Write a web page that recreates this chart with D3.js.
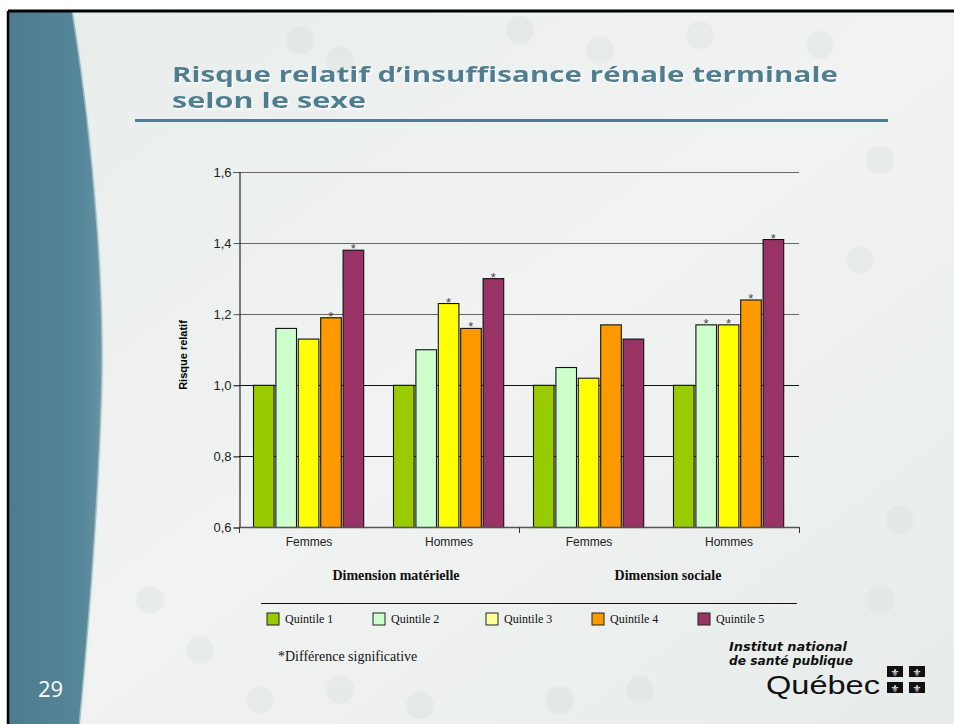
<!DOCTYPE html>
<html><head><meta charset="utf-8">
<script src="https://cdn.jsdelivr.net/npm/d3@7"></script>
<style>html,body{margin:0;padding:0;background:#fff;overflow:hidden}</style>
</head><body>
<svg id="c" width="954" height="724"></svg>
<script>
const groups = ["Femmes","Hommes","Femmes ","Hommes "];
const groupLabels = ["Femmes","Hommes","Femmes","Hommes"];
const dimensions = ["Dimension matérielle","Dimension sociale"];
const quintiles = ["Quintile 1","Quintile 2","Quintile 3","Quintile 4","Quintile 5"];
const q1 = [1.00,1.00,1.00,1.00];
const q2 = [1.16,1.10,1.05,1.17];
const q3 = [1.13,1.23,1.02,1.17];
const q4 = [1.19,1.16,1.17,1.24];
const q5 = [1.38,1.30,1.13,1.41];
const significant = [[0,0,0,1,1],[0,0,1,1,1],[0,0,0,0,0],[0,1,1,1,1]];
const barColors = ["#99cc00","#ccffcc","#ffff00","#ff9900","#993366"];
const legendColors = ["#99cc00","#ccffcc","#ffff99","#ff9900","#993366"];
const yTicks = [0.6,0.8,1.0,1.2,1.4,1.6];
const series = [q1,q2,q3,q4,q5];

const svg = d3.select("#c");
const defs = svg.append("defs");
const bg = defs.append("linearGradient").attr("id","bg").attr("x1",0).attr("y1",0).attr("x2",1).attr("y2",1);
bg.append("stop").attr("offset","0").attr("stop-color","#e8edeb");
bg.append("stop").attr("offset","0.5").attr("stop-color","#f0f3f2");
bg.append("stop").attr("offset","1").attr("stop-color","#e7ecea");
const band = defs.append("linearGradient").attr("id","band").attr("x1",0).attr("y1",0).attr("x2",1).attr("y2",0);
band.append("stop").attr("offset","0").attr("stop-color","#4c7b8d");
band.append("stop").attr("offset","0.8").attr("stop-color","#56879a");
band.append("stop").attr("offset","1").attr("stop-color","#6a95a4");
const sh = defs.append("filter").attr("id","shadow").attr("x","-5%").attr("y","-20%").attr("width","110%").attr("height","140%");
sh.append("feDropShadow").attr("dx",1.5).attr("dy",1.5).attr("stdDeviation",0.6).attr("flood-color","#ffffff").attr("flood-opacity",0.9);

svg.append("rect").attr("width",954).attr("height",724).attr("fill","#fff");
svg.append("rect").attr("x",8).attr("y",11).attr("width",946).attr("height",713).attr("fill","url(#bg)");
const pat = svg.append("g").attr("opacity",0.18);
const pts = [[300,40],[340,60],[520,30],[600,50],[700,35],[820,45],[150,600],[200,650],[260,700],[340,690],[420,705],[560,700],[640,690],[880,600],[900,520],[860,260],[880,160]];
pts.forEach(p=>pat.append("circle").attr("cx",p[0]).attr("cy",p[1]).attr("r",14).attr("fill","#c8d3cf"));
svg.append("path").attr("d","M9,12 L73,12 C95,150 106,300 102,400 C98,520 88,640 80,724 L9,724 Z").attr("fill","url(#band)");
svg.append("path").attr("d","M73,12 C95,150 106,300 102,400 C98,520 88,640 80,724").attr("fill","none").attr("stroke","#dfe7e6").attr("stroke-width",3).attr("opacity",0.5);
svg.append("line").attr("x1",8).attr("y1",11).attr("x2",954).attr("y2",11).attr("stroke","#000").attr("stroke-width",3);
svg.append("line").attr("x1",8).attr("y1",11).attr("x2",8).attr("y2",724).attr("stroke","#000").attr("stroke-width",2.5);

svg.append("text").attr("x",38).attr("y",697).attr("fill","#fff").attr("font-family","'Open Sans',sans-serif").attr("font-size",22).text("29");

const title = svg.append("g").attr("font-family","'Open Sans','Noto Sans',sans-serif").attr("font-weight","bold").attr("font-size",21).attr("fill","#4e7f91").attr("filter","url(#shadow)");
title.append("text").attr("x",172).attr("y",82).attr("textLength",666).attr("lengthAdjust","spacingAndGlyphs").text("Risque relatif d’insuffisance rénale terminale");
title.append("text").attr("x",172).attr("y",108).attr("textLength",194).attr("lengthAdjust","spacingAndGlyphs").text("selon le sexe");
svg.append("line").attr("x1",135).attr("x2",888).attr("y1",120.5).attr("y2",120.5).attr("stroke","#4e7f91").attr("stroke-width",3);

const x0 = d3.scaleBand().domain(groups).range([239,799]).paddingInner(0.2).paddingOuter(0.1);
const x1 = d3.scaleBand().domain(d3.range(5)).range([0,x0.bandwidth()]);
const y = d3.scaleLinear().domain([0.6,1.6]).range([527.5,172]);

const g = svg.append("g");
g.selectAll("line.grid").data(yTicks.slice(1)).join("line")
  .attr("x1",239).attr("x2",799).attr("y1",d=>Math.round(y(d))+0.5).attr("y2",d=>Math.round(y(d))+0.5)
  .attr("stroke",d=>d>1.1?"#666":"#111").attr("stroke-width",1);

const gg = g.selectAll("g.grp").data(groups).join("g").attr("transform",d=>`translate(${x0(d)},0)`);
gg.each(function(gname,gi){
  const sel = d3.select(this);
  const data = series.map((s,qi)=>({v:s[gi],qi,sig:significant[gi][qi]}));
  sel.selectAll("rect").data(data).join("rect")
    .attr("x",d=>x1(d.qi)+0.5).attr("width",x1.bandwidth()-1.8)
    .attr("y",d=>y(d.v)).attr("height",d=>y(0.6)-y(d.v))
    .attr("fill",d=>barColors[d.qi]).attr("stroke","#111").attr("stroke-width",1.1);
  sel.selectAll("text").data(data.filter(d=>d.sig)).join("text")
    .attr("x",d=>x1(d.qi)+x1.bandwidth()/2-0.5).attr("y",d=>y(d.v)+3)
    .attr("text-anchor","middle").attr("font-family","'Liberation Sans',Arial,sans-serif").attr("font-size",13).attr("fill","#444").text("*");
});

const yAxis = d3.axisLeft(y).tickValues(yTicks).tickSize(6).tickFormat(d=>d3.format(".1f")(d).replace(".",","));
const ya = svg.append("g").attr("transform","translate(239.5,0)").call(yAxis);
ya.select(".domain").attr("stroke","#000");
ya.selectAll(".tick line").attr("stroke",d=>d>1.1||d<0.7?"#555":"#000");
ya.selectAll(".tick text").attr("font-family","'Liberation Sans',Arial,sans-serif").attr("font-size",13).attr("fill","#222").attr("x",-8);
svg.append("text").attr("transform","translate(187,355) rotate(-90)").attr("text-anchor","middle")
  .attr("font-family","'Liberation Sans',Arial,sans-serif").attr("font-weight","bold").attr("font-size",11).attr("fill","#000").text("Risque relatif");

svg.append("line").attr("x1",239).attr("x2",799).attr("y1",527.5).attr("y2",527.5).attr("stroke","#555").attr("stroke-width",1.3);
[239,519,799].forEach(xx=>svg.append("line").attr("x1",xx+0.5).attr("x2",xx+0.5).attr("y1",527).attr("y2",533).attr("stroke","#333"));
svg.selectAll("text.cat").data(groups).join("text").attr("class","cat")
  .attr("x",d=>x0(d)+x0.bandwidth()/2).attr("y",546).attr("text-anchor","middle")
  .attr("font-family","'Liberation Sans',Arial,sans-serif").attr("font-size",12).attr("fill","#222").text((d,i)=>groupLabels[i]);
svg.selectAll("text.dim").data(dimensions).join("text").attr("class","dim")
  .attr("x",(d,i)=>[396,668][i]).attr("y",580).attr("text-anchor","middle")
  .attr("font-family","'Liberation Serif','Times New Roman',serif").attr("font-weight","bold").attr("font-size",14).attr("fill","#111").text(d=>d);

svg.append("line").attr("x1",261).attr("x2",797).attr("y1",603.5).attr("y2",603.5).attr("stroke","#111").attr("stroke-width",1.2);
const lx = [267,373,486,592,698];
const lg = svg.selectAll("g.leg").data(quintiles).join("g").attr("class","leg").attr("transform",(d,i)=>`translate(${lx[i]},613)`);
lg.append("rect").attr("width",12).attr("height",12).attr("fill",(d,i)=>legendColors[i]).attr("stroke","#222").attr("stroke-width",1);
lg.append("text").attr("x",18).attr("y",10).attr("font-family","'Liberation Serif','Times New Roman',serif").attr("font-size",12).attr("fill","#111").text(d=>d);

svg.append("text").attr("x",278).attr("y",661).attr("font-family","'Liberation Serif','Times New Roman',serif").attr("font-size",14).attr("fill","#111").text("*Différence significative");

const logo = svg.append("g").attr("font-family","'DejaVu Sans','Liberation Sans',sans-serif").attr("fill","#111");
logo.append("text").attr("x",729).attr("y",651).attr("font-weight","bold").attr("font-style","italic").attr("font-size",12).attr("textLength",118).attr("lengthAdjust","spacingAndGlyphs").text("Institut national");
logo.append("text").attr("x",729).attr("y",665).attr("font-weight","bold").attr("font-style","italic").attr("font-size",12).attr("textLength",124).attr("lengthAdjust","spacingAndGlyphs").text("de santé publique");
logo.append("text").attr("x",766).attr("y",694).attr("font-family","'Liberation Sans',Arial,sans-serif").attr("font-size",25).attr("textLength",114).attr("lengthAdjust","spacingAndGlyphs").text("Québec");
[[887,666],[909,666],[887,682],[909,682]].forEach(p=>{
  logo.append("rect").attr("x",p[0]).attr("y",p[1]).attr("width",16).attr("height",11).attr("fill","#111");
  logo.append("text").attr("x",p[0]+8).attr("y",p[1]+9.5).attr("text-anchor","middle").attr("font-size",10).attr("fill","#fff").text("⚜");
});
</script>
</body></html>
